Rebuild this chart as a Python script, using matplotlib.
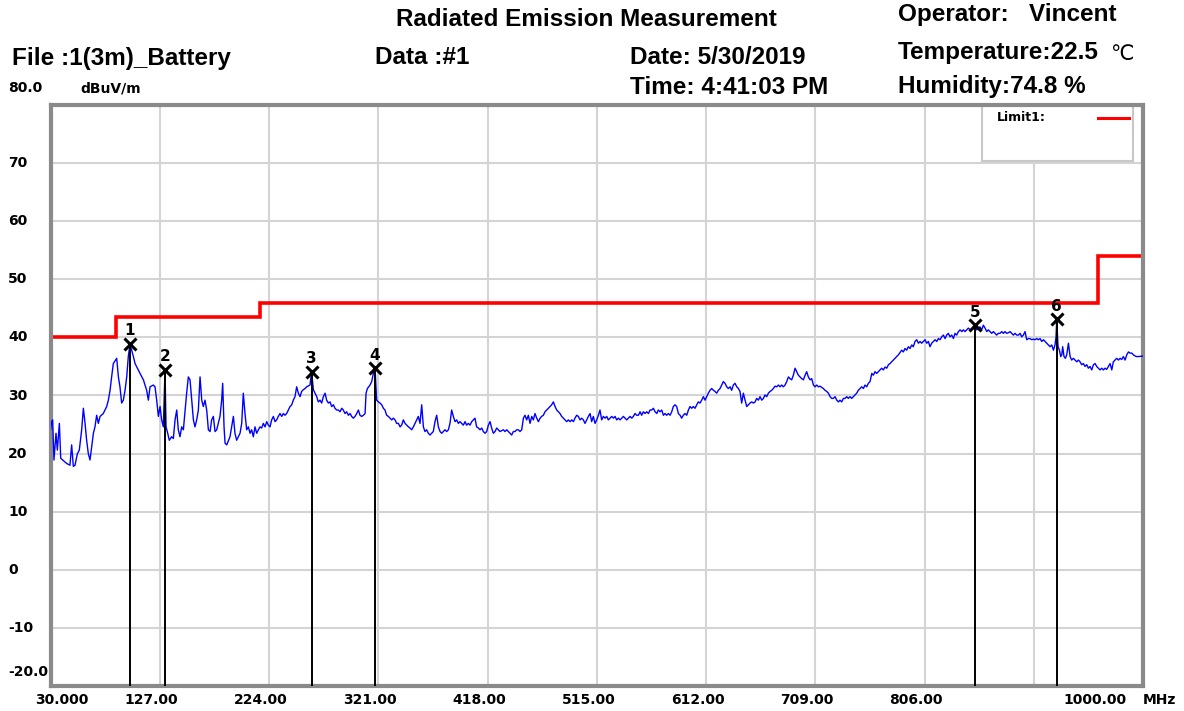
import matplotlib
matplotlib.use("Agg")
import matplotlib.pyplot as plt
import matplotlib.transforms as mtransforms
from matplotlib.patches import Rectangle
import numpy as np

# scan trace (MHz, dBuV/m)
trace_30_190 = [
    (30.0, 24.2), (30.9, 25.5), (31.7, 25.8), (32.9, 18.9), (34.7, 23.5), (35.9, 20.6),
    (37.7, 25.2), (38.9, 19.2), (40.6, 18.9), (44.2, 18.3), (47.1, 18.0), (48.6, 21.5),
    (50.1, 17.8), (51.6, 18.0), (53.7, 20.0), (55.4, 20.6), (57.5, 24.1), (59.0, 27.8),
    (60.5, 25.2), (61.9, 22.3), (63.4, 20.0), (64.9, 18.9), (66.4, 21.2), (67.9, 23.5),
    (69.3, 24.6), (70.8, 26.6), (72.3, 25.2), (73.8, 26.4), (76.7, 26.9), (79.7, 28.1),
    (81.2, 29.2), (82.7, 30.9), (84.1, 33.2), (85.6, 35.5), (88.6, 36.4), (90.1, 33.2),
    (91.5, 31.5), (93.0, 28.7), (94.5, 29.2), (96.0, 30.9), (97.5, 33.2), (98.9, 36.7),
    (100.4, 38.8), (101.9, 37.8), (103.4, 36.7), (104.9, 35.5), (109.3, 33.8), (112.3, 32.7),
    (115.2, 30.9), (116.7, 29.2), (118.2, 31.5), (121.1, 31.8), (122.6, 31.5), (124.1, 29.2),
    (125.6, 26.4), (127.1, 28.1), (128.5, 25.8), (130.0, 24.6), (131.5, 34.4), (132.4, 24.6),
    (133.9, 23.5), (135.3, 22.3), (137.4, 22.9), (138.9, 22.6), (140.4, 25.8), (141.9, 27.5),
    (143.3, 24.1), (144.8, 22.9), (146.3, 24.6), (147.8, 24.1), (150.7, 30.4), (152.2, 33.2),
    (153.7, 32.7), (155.2, 29.2), (156.7, 25.8), (158.1, 24.6), (159.6, 25.8), (161.1, 27.5),
    (162.6, 33.2), (164.1, 29.2), (165.5, 28.1), (167.0, 29.2), (168.5, 27.5), (170.0, 24.1),
    (171.5, 23.8), (172.9, 25.8), (174.4, 26.4), (175.9, 23.8), (177.4, 24.1), (180.3, 26.4),
    (181.8, 29.2), (182.7, 32.1), (183.9, 24.6), (184.8, 21.8), (186.3, 21.5), (189.2, 22.9),
]

trace_190_360 = [
    (190.7, 24.6), (192.2, 26.4), (193.6, 23.5), (195.1, 22.3), (196.6, 22.9), (198.1, 23.5),
    (199.6, 25.2), (201.0, 30.4), (202.5, 26.9), (204.0, 24.1), (205.5, 24.6), (207.0, 23.5),
    (208.4, 24.1), (209.9, 22.9), (211.4, 24.6), (212.9, 23.5), (214.4, 24.1), (215.8, 24.6),
    (217.3, 24.4), (218.8, 25.2), (220.3, 24.6), (221.8, 25.5), (223.2, 24.9), (224.7, 24.6),
    (226.2, 25.8), (227.7, 26.4), (229.2, 25.5), (230.6, 25.8), (232.1, 26.4), (233.6, 26.9),
    (235.1, 26.4), (236.6, 26.9), (238.0, 26.6), (239.5, 26.9), (241.0, 27.5), (242.5, 28.1),
    (244.0, 28.4), (245.4, 29.2), (246.9, 29.8), (248.4, 31.5), (249.9, 30.4), (251.4, 29.8),
    (252.8, 30.7), (254.3, 31.0), (255.8, 31.2), (257.3, 31.5), (260.2, 31.8), (261.7, 34.1),
    (263.2, 31.0), (264.7, 30.4), (266.2, 29.8), (267.6, 28.9), (269.1, 29.2), (270.6, 28.7),
    (272.1, 29.8), (273.6, 30.4), (275.0, 29.2), (276.5, 28.7), (278.0, 28.9), (279.5, 28.1),
    (281.0, 28.4), (282.4, 27.8), (283.9, 27.5), (285.4, 27.5), (286.9, 27.2), (288.4, 27.8),
    (289.8, 27.5), (291.3, 26.9), (292.8, 27.2), (294.3, 26.6), (295.8, 26.9), (297.2, 26.4),
    (298.7, 26.1), (300.2, 26.4), (301.7, 26.9), (303.2, 27.5), (304.6, 26.6), (306.1, 26.4),
    (307.6, 26.6), (309.1, 26.9), (310.0, 30.4), (311.2, 31.2), (313.5, 31.8), (315.0, 32.4),
    (316.5, 33.8), (318.0, 34.6), (319.4, 29.2), (320.9, 28.9), (322.4, 28.7), (323.9, 28.4),
    (325.4, 27.8), (326.8, 27.5), (328.3, 26.6), (329.8, 26.4), (331.3, 26.1), (332.8, 25.8),
    (334.2, 26.1), (335.7, 25.8), (337.2, 25.2), (338.7, 25.2), (340.2, 24.6), (341.6, 24.9),
    (343.1, 25.8), (344.6, 25.2), (346.1, 24.9), (347.6, 24.6), (349.0, 24.4), (350.5, 24.1),
    (352.0, 24.6), (353.5, 25.2), (355.0, 25.8), (356.4, 26.4), (357.9, 25.2),
]

trace_360_570 = [
    (359.4, 28.4), (360.9, 24.6), (362.3, 23.8), (363.8, 24.1), (365.3, 23.5), (366.8, 23.2),
    (368.3, 23.5), (369.7, 23.8), (371.2, 25.5), (372.7, 26.6), (374.2, 24.6), (375.7, 23.8),
    (377.1, 23.5), (378.6, 23.8), (380.1, 24.1), (381.6, 23.8), (383.1, 24.1), (384.5, 25.2),
    (386.0, 27.5), (387.5, 26.4), (389.0, 25.5), (390.5, 25.8), (391.9, 25.2), (393.4, 25.5),
    (394.9, 25.2), (396.4, 24.9), (397.9, 25.5), (399.3, 24.9), (400.8, 25.2), (402.3, 24.9),
    (403.8, 25.5), (405.3, 25.8), (406.7, 26.1), (408.2, 24.6), (409.7, 24.4), (411.2, 24.1),
    (412.7, 24.4), (414.1, 23.8), (415.6, 23.5), (417.1, 23.8), (418.6, 24.9), (420.1, 25.5),
    (421.5, 24.4), (423.0, 23.5), (424.5, 23.8), (426.0, 24.4), (427.5, 24.1), (428.9, 23.8),
    (431.9, 24.1), (433.4, 23.8), (434.9, 24.1), (436.3, 23.8), (437.8, 23.5), (439.3, 23.2),
    (440.8, 23.8), (442.3, 23.8), (443.7, 24.1), (445.2, 24.1), (446.7, 23.8), (448.2, 24.1),
    (449.7, 26.1), (451.1, 26.6), (452.6, 25.8), (454.1, 26.6), (455.6, 25.2), (457.1, 26.4),
    (458.5, 25.8), (460.0, 26.9), (461.5, 26.1), (463.0, 25.5), (464.5, 26.1), (465.9, 26.4),
    (467.4, 26.6), (468.9, 27.2), (470.4, 27.5), (471.9, 27.8), (473.3, 28.1), (474.8, 28.4),
    (476.3, 28.9), (477.8, 28.1), (479.3, 27.5), (480.7, 27.2), (482.2, 26.9), (483.7, 26.4),
    (485.2, 26.1), (486.7, 25.8), (488.1, 25.5), (489.6, 25.8), (491.1, 25.5), (492.6, 25.8),
    (494.1, 25.5), (495.5, 26.1), (497.0, 26.6), (498.5, 26.4), (500.0, 25.8), (501.5, 26.1),
    (502.9, 25.8), (504.4, 25.2), (505.9, 25.8), (507.4, 26.4), (508.9, 26.9), (510.3, 25.5),
    (511.8, 26.4), (513.3, 25.2), (514.8, 25.8), (516.3, 26.6), (517.7, 27.5), (519.2, 25.8),
    (520.7, 26.4), (522.2, 26.1), (523.7, 26.4), (525.1, 25.8), (526.6, 26.1), (528.1, 26.4),
    (529.6, 26.1), (531.1, 26.4), (532.5, 25.8), (534.0, 26.1), (535.5, 25.8), (537.0, 26.1),
    (538.5, 26.4), (539.9, 26.1), (541.4, 25.8), (542.9, 26.1), (544.4, 26.4), (545.9, 26.1),
    (547.3, 26.4), (548.8, 26.9), (550.3, 26.6), (551.8, 26.6), (553.3, 27.2), (554.7, 26.6),
    (556.2, 27.2), (557.7, 26.9), (559.2, 27.2), (560.7, 26.9), (562.1, 27.5), (563.6, 27.5),
    (565.1, 27.8), (566.6, 27.2), (568.1, 26.9), (569.5, 27.5),
]

trace_570_785 = [
    (571.0, 27.2), (572.5, 27.5), (574.0, 26.6), (575.4, 26.9), (576.9, 26.6), (578.4, 26.9),
    (579.9, 26.6), (581.4, 27.2), (582.8, 28.1), (584.3, 28.4), (585.8, 28.1), (587.3, 26.9),
    (588.8, 26.6), (590.2, 26.1), (591.7, 26.6), (593.2, 26.9), (594.7, 26.6), (596.2, 27.5),
    (597.6, 28.1), (599.1, 27.8), (600.6, 28.1), (602.1, 27.8), (603.6, 28.4), (605.0, 28.9),
    (606.5, 28.7), (608.0, 29.2), (609.5, 29.8), (611.0, 29.2), (612.4, 29.8), (613.9, 30.4),
    (615.4, 30.9), (616.9, 31.2), (618.4, 30.9), (619.8, 30.7), (621.3, 30.4), (622.8, 30.9),
    (624.3, 31.2), (625.8, 31.8), (627.2, 32.4), (628.7, 32.1), (630.2, 31.5), (631.7, 31.2),
    (633.2, 31.5), (634.6, 30.9), (636.1, 31.8), (637.6, 32.1), (639.1, 31.5), (640.6, 31.2),
    (642.0, 30.7), (643.5, 28.7), (645.0, 30.4), (646.5, 29.2), (648.0, 28.1), (649.4, 28.4),
    (650.9, 28.7), (652.4, 28.9), (653.9, 28.7), (655.4, 28.9), (656.8, 29.5), (658.3, 29.2),
    (659.8, 29.8), (661.3, 29.2), (662.8, 29.5), (664.2, 30.1), (665.7, 29.8), (667.2, 30.4),
    (668.7, 30.7), (670.2, 30.9), (671.6, 31.2), (673.1, 31.6), (674.6, 31.5), (676.1, 31.8),
    (677.6, 31.5), (679.0, 31.8), (680.5, 31.5), (682.0, 31.8), (683.5, 32.4), (685.0, 33.2),
    (686.4, 32.9), (687.9, 32.7), (689.4, 33.5), (690.9, 34.7), (692.4, 34.1), (693.8, 33.5),
    (695.3, 33.2), (696.8, 32.9), (698.3, 32.7), (699.8, 33.5), (701.2, 34.1), (702.7, 33.2),
    (704.2, 32.7), (705.7, 32.9), (707.2, 31.8), (708.6, 31.5), (710.1, 31.8), (711.6, 31.5),
    (713.1, 31.6), (714.6, 31.4), (716.0, 31.2), (717.5, 30.9), (719.0, 30.7), (720.5, 30.4),
    (722.0, 29.8), (723.4, 29.5), (724.9, 29.5), (726.4, 29.8), (727.9, 29.2), (729.4, 28.9),
    (730.8, 29.2), (732.3, 28.9), (733.8, 29.5), (735.3, 29.5), (736.8, 29.8), (738.2, 29.5),
    (739.7, 29.8), (741.2, 29.5), (742.7, 29.8), (744.2, 30.1), (745.6, 30.4), (747.1, 30.9),
    (748.6, 31.2), (750.1, 31.5), (751.6, 31.2), (753.0, 31.8), (754.5, 31.5), (756.0, 32.1),
    (757.5, 32.4), (759.0, 33.8), (760.4, 33.5), (761.9, 34.1), (763.4, 33.8), (764.9, 34.1),
    (766.4, 34.4), (767.8, 34.7), (769.3, 34.4), (770.8, 34.9), (772.3, 34.7), (773.8, 35.3),
    (775.2, 35.5), (776.7, 35.8), (778.2, 36.1), (779.7, 36.4), (781.2, 36.7), (782.6, 37.0),
]

trace_785_1000 = [
    (784.1, 37.4), (785.6, 37.8), (787.1, 37.5), (788.5, 38.1), (790.0, 37.8), (791.5, 38.4),
    (793.0, 38.1), (794.5, 38.7), (795.9, 38.4), (797.4, 39.3), (798.9, 39.6), (800.4, 39.0),
    (801.9, 39.3), (803.3, 39.0), (804.8, 39.3), (806.3, 39.6), (807.8, 39.0), (809.3, 39.3),
    (810.7, 38.4), (812.2, 39.0), (813.7, 39.3), (815.2, 39.6), (816.7, 39.3), (818.1, 39.8),
    (819.6, 39.6), (821.1, 40.1), (822.6, 40.4), (824.1, 39.8), (825.5, 40.4), (827.0, 40.7),
    (828.5, 40.1), (830.0, 40.4), (831.5, 39.8), (832.9, 40.7), (834.4, 40.4), (835.9, 41.0),
    (837.4, 41.3), (838.9, 41.0), (840.3, 41.3), (841.8, 41.0), (843.3, 41.3), (844.8, 41.6),
    (846.3, 41.3), (847.7, 41.4), (849.2, 41.8), (850.7, 42.0), (852.2, 41.3), (853.7, 41.6),
    (855.1, 41.8), (856.6, 41.3), (858.1, 42.1), (859.6, 41.6), (861.1, 41.0), (862.5, 41.3),
    (864.0, 41.0), (865.5, 40.7), (867.0, 41.0), (868.5, 40.7), (869.9, 40.4), (871.4, 40.7),
    (872.9, 40.7), (874.4, 41.0), (875.9, 40.7), (877.3, 41.0), (878.8, 40.7), (880.3, 40.8),
    (881.8, 41.0), (883.3, 40.7), (884.7, 40.4), (886.2, 40.7), (887.7, 40.4), (889.2, 40.4),
    (890.7, 40.7), (892.1, 40.1), (893.6, 40.4), (895.1, 41.0), (896.6, 39.6), (898.1, 39.8),
    (899.5, 39.8), (901.0, 39.6), (902.5, 39.7), (904.0, 39.6), (905.5, 39.8), (906.9, 39.6),
    (908.4, 39.8), (909.9, 39.3), (911.4, 39.6), (912.9, 39.3), (914.3, 39.0), (915.8, 38.7),
    (917.3, 38.4), (918.8, 38.7), (920.3, 37.8), (921.7, 38.7), (922.6, 40.1), (923.2, 43.0),
    (924.4, 38.4), (925.6, 37.8), (926.8, 36.7), (927.7, 37.0), (928.5, 38.4), (929.7, 36.7),
    (930.9, 36.4), (932.1, 37.0), (933.6, 39.0), (935.1, 36.7), (936.5, 36.1), (938.0, 36.4),
    (939.5, 36.1), (941.0, 35.8), (942.5, 36.1), (943.9, 35.8), (945.4, 35.3), (946.9, 35.5),
    (948.4, 35.0), (949.9, 35.3), (951.3, 34.7), (952.8, 35.0), (954.3, 34.4), (955.8, 35.3),
    (957.3, 35.5), (958.7, 35.0), (960.2, 34.7), (961.7, 34.4), (963.2, 34.7), (964.7, 34.4),
    (966.1, 34.7), (967.6, 34.5), (969.1, 35.0), (970.6, 35.5), (972.1, 34.4), (973.5, 35.8),
    (975.0, 36.1), (976.5, 36.4), (978.0, 36.1), (979.5, 36.4), (980.9, 36.2), (982.4, 36.7),
    (983.9, 36.1), (985.4, 37.0), (986.9, 37.5), (988.3, 37.3), (989.8, 37.3), (991.3, 37.0),
    (992.8, 36.8), (994.3, 36.7), (995.7, 36.7), (1000.0, 36.8),
]

# limit line (FCC class B at 3 m)
limit_edges = [30, 88, 216, 960, 1000]
limit_levels = [40, 43.5, 46, 54]

# peak markers
marker_no = [1, 2, 3, 4, 5, 6]
marker_freq = [100.4, 131.5, 261.7, 318.0, 850.7, 923.2]
marker_level = [38.9, 34.4, 34.1, 34.7, 42.1, 43.1]

x_ticks = [30, 127, 224, 321, 418, 515, 612, 709, 806, 903, 1000]
x_labels = ["30.000", "127.00", "224.00", "321.00", "418.00", "515.00",
            "612.00", "709.00", "806.00", "", "1000.00"]
y_ticks = [70, 60, 50, 40, 30, 20, 10, 0, -10]

W, H = 1184, 711
fig = plt.figure(figsize=(W / 100, H / 100), dpi=100)
ax = fig.add_axes([50.7 / W, 25 / H, 1092.5 / W, 581 / H])
ax.set_xlim(30, 1000)
ax.set_ylim(-20, 80)
ax.set_xticks(x_ticks)
ax.set_yticks(range(-20, 81, 10))
ax.tick_params(length=0, labelbottom=False, labelleft=False)
ax.grid(True, color="#d4d4d4", lw=1.5)
ax.set_axisbelow(True)
for sp in ax.spines.values():
    sp.set_color("#8a8a8a")
    sp.set_linewidth(3)

trace = trace_30_190 + trace_190_360 + trace_360_570 + trace_570_785 + trace_785_1000
tf = [p[0] for p in trace]
tl = [p[1] for p in trace]
ax.plot(tf, tl, color="#0000ff", lw=1.0, zorder=3)

ax.stairs(limit_levels, limit_edges, baseline=None, color="#ff0000", lw=2.6, zorder=2.5)

ax.vlines(marker_freq, -20, marker_level, colors="black", lw=1.4, zorder=4)
ax.plot(marker_freq, marker_level, "x", ms=9, mew=2.2, color="black", zorder=5)
for n, f, l in zip(marker_no, marker_freq, marker_level):
    ax.annotate(str(n), (f, l), xytext=(0, 4), textcoords="offset points",
                ha="center", va="bottom", fontsize=11, fontweight="bold",
                family="DejaVu Sans", zorder=6)

# legend box
ax.add_patch(Rectangle((856.9, 70.4), 134.0, 9.6, facecolor="white",
                       edgecolor="#c8c8c8", lw=1.5, zorder=2))
ax.text(870.5, 77.8, "Limit1:", fontsize=9, fontweight="bold",
        family="DejaVu Sans", va="center", zorder=6)
ax.plot([960, 987], [77.8, 77.8], color="#ff0000", lw=2.2, zorder=6)

# tick labels
bt = mtransforms.blended_transform_factory(ax.transData, fig.transFigure)
for v, lab in zip(x_ticks, x_labels):
    xpos = v - 7.5
    if v == 30:
        xpos = 40.0
    if v == 1000:
        xpos = 957.0
    ax.text(xpos, 1 - 700 / H, lab, transform=bt, ha="center", va="center",
            fontsize=10, fontweight="bold", family="DejaVu Sans")
fig.text(1143 / W, 1 - 700 / H, "MHz", ha="left", va="center",
         fontsize=10, fontweight="bold", family="DejaVu Sans")

lt = mtransforms.blended_transform_factory(fig.transFigure, ax.transData)
for v in y_ticks:
    ax.text(8 / W, v, str(v), transform=lt, ha="left", va="center",
            fontsize=10, fontweight="bold", family="DejaVu Sans")
fig.text(8 / W, 1 - 672 / H, "-20.0", ha="left", va="center",
         fontsize=10, fontweight="bold", family="DejaVu Sans")
fig.text(8 / W, 1 - 88 / H, "80.0", ha="left", va="center",
         fontsize=10, fontweight="bold", family="DejaVu Sans")
fig.text(80 / W, 1 - 88 / H, "dBuV/m", ha="left", va="center",
         fontsize=10, fontweight="bold", family="DejaVu Sans")

# header
hdr = dict(fontsize=17.5, fontweight="bold", family=["Liberation Sans", "DejaVu Sans"],
           va="center", ha="left")
fig.text(586 / W, 1 - 19 / H, "Radiated Emission Measurement",
         **{**hdr, "ha": "center"})
fig.text(12 / W, 1 - 58 / H, "File :1(3m)_Battery", **hdr)
fig.text(375 / W, 1 - 58 / H, "Data :#1", **hdr)
fig.text(630 / W, 1 - 58 / H, "Date: 5/30/2019", **hdr)
fig.text(630 / W, 1 - 88 / H, "Time: 4:41:03 PM", **hdr)
fig.text(898 / W, 1 - 15 / H, "Operator:   Vincent", **hdr)
fig.text(898 / W, 1 - 53 / H, "Temperature:22.5", **hdr)
fig.text(1110 / W, 1 - 54 / H, "\u2103", fontsize=15, family="DejaVu Sans",
         va="center", ha="left")
fig.text(898 / W, 1 - 87 / H, "Humidity:74.8 %", **hdr)

fig.savefig("out.png", dpi=100)
